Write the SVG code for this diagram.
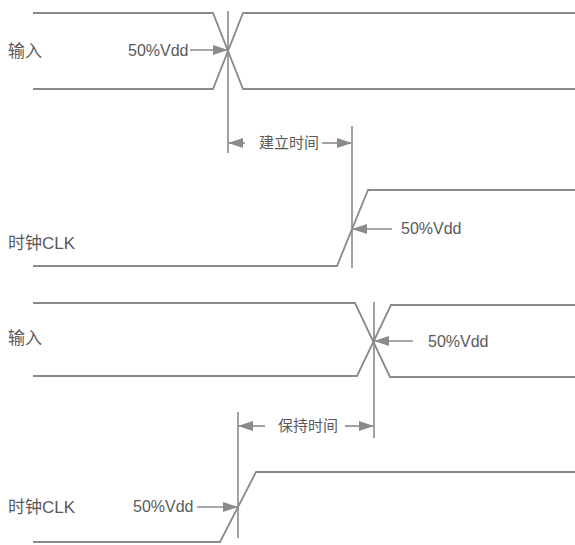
<svg xmlns="http://www.w3.org/2000/svg" width="575" height="545" viewBox="0 0 575 545">
<style>
.w{fill:none;stroke:#8a8a8a;stroke-width:1.8;stroke-linejoin:miter}
.v{fill:none;stroke:#8a8a8a;stroke-width:1.6}
.a{fill:none;stroke:#8a8a8a;stroke-width:1.6}
.t{font-family:"Liberation Sans","Noto Sans CJK SC",sans-serif;fill:#5a5a5a}
.lbl{font-size:17px}
.pct{font-size:16px}
.cap{font-size:15px}
</style>
<defs>
<marker id="ah" markerUnits="userSpaceOnUse" markerWidth="16" markerHeight="10" refX="14" refY="5" orient="auto">
<path d="M0,0 L15,5 L0,10 Z" fill="#8a8a8a"/>
</marker>
</defs>
<rect width="575" height="545" fill="#fff"/>
<g id="input1">
<path class="w" d="M33,13 H213 L243,89 H575"/>
<path class="w" d="M33,89 H213 L243,13 H575"/>
<text class="t lbl" x="8" y="57">输入</text>
<text class="t pct" x="128" y="56">50%Vdd</text>
</g>
<g id="setup">
<text class="t cap" x="259" y="148">建立时间</text>
</g>
<g id="clk1">
<path class="w" d="M33,266 H337 L368,190 H575"/>
<text class="t lbl" x="8" y="249">时钟CLK</text>
<text class="t pct" x="401" y="234">50%Vdd</text>
</g>
<g id="input2">
<path class="w" d="M33,303 H355 L390,377 H575"/>
<path class="w" d="M33,376 H357 L391,305 H575"/>
<text class="t lbl" x="8" y="344">输入</text>
<text class="t pct" x="428" y="347">50%Vdd</text>
</g>
<g id="hold">
<text class="t cap" x="278" y="431">保持时间</text>
</g>
<g id="clk2">
<path class="w" d="M33,542 H220 L256,472 H575"/>
<text class="t lbl" x="8" y="513">时钟CLK</text>
<text class="t pct" x="133" y="512">50%Vdd</text>
</g>
<g id="connectors">
<line class="v" x1="228" y1="11" x2="228" y2="153"/>
<line class="v" x1="352" y1="126" x2="352" y2="268"/>
<line class="v" x1="374" y1="302" x2="374" y2="438"/>
<line class="v" x1="238" y1="412" x2="238" y2="538"/>
<line class="a" x1="190" y1="50" x2="227" y2="50" marker-end="url(#ah)"/>
<line class="a" x1="245" y1="143" x2="229" y2="143" marker-end="url(#ah)"/>
<line class="a" x1="322" y1="143" x2="351" y2="143" marker-end="url(#ah)"/>
<line class="a" x1="392" y1="229" x2="353" y2="229" marker-end="url(#ah)"/>
<line class="a" x1="413" y1="341" x2="375" y2="341" marker-end="url(#ah)"/>
<line class="a" x1="265" y1="426" x2="239" y2="426" marker-end="url(#ah)"/>
<line class="a" x1="345" y1="426" x2="373" y2="426" marker-end="url(#ah)"/>
<line class="a" x1="197" y1="507" x2="237" y2="507" marker-end="url(#ah)"/>
</g>
</svg>
